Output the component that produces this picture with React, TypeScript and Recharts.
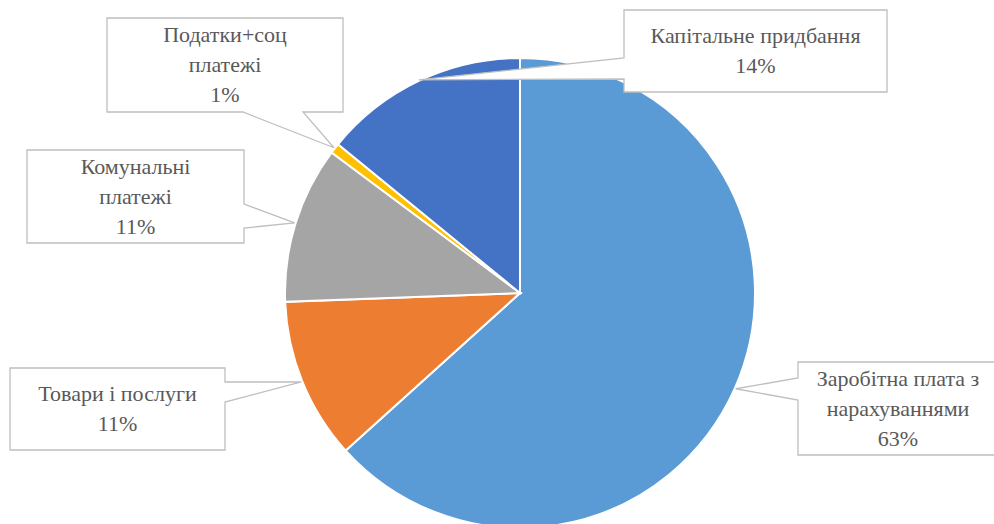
import { PieChart, Pie, Cell } from 'recharts';

// Budget structure, share of total (%)
const CATEGORIES = [
  'Заробітна плата з\nнарахуваннями',
  'Товари і послуги',
  'Комунальні\nплатежі',
  'Податки+соц\nплатежі',
  'Капітальне придбання',
];
const SHARES = [63.3, 11.1, 10.8, 0.7, 14.1];
const COLORS = ['#5B9BD5', '#ED7D31', '#A5A5A5', '#FFC000', '#4472C4'];

// Callout boxes (page coords); side = where the pointer leaves the box
const CALLOUTS = [
  { x: 798, y: 362, w: 200, h: 93, side: 'left', b1: 378, b2: 400 },
  { x: 10, y: 368, w: 215, h: 82, side: 'right', b1: 382, b2: 402 },
  { x: 27, y: 150, w: 217, h: 93, side: 'right', b1: 204, b2: 228 },
  { x: 107, y: 18, w: 236, h: 94, side: 'bottom', b1: 243, b2: 303 },
  { x: 624, y: 10, w: 263, h: 82, side: 'left', b1: 58, b2: 79 },
];

const CX = 520;
const CY = 293;
const R = 235;
const RAD = Math.PI / 180;

const data = CATEGORIES.map((name, i) => ({ name, value: SHARES[i] }));

function calloutPath(c: (typeof CALLOUTS)[number], tx: number, ty: number) {
  const { x, y, w, h, side, b1, b2 } = c;
  const r = x + w;
  const b = y + h;
  if (side === 'left') {
    return `M${x},${y}L${r},${y}L${r},${b}L${x},${b}L${x},${b2}L${tx},${ty}L${x},${b1}Z`;
  }
  if (side === 'right') {
    return `M${x},${y}L${r},${y}L${r},${b1}L${tx},${ty}L${r},${b2}L${r},${b}L${x},${b}Z`;
  }
  return `M${x},${y}L${r},${y}L${r},${b}L${b2},${b}L${tx},${ty}L${b1},${b}L${x},${b}Z`;
}

// label layer drawn on top of the pie, pointer tips at each slice's mid angle
function Callouts() {
  const total = SHARES.reduce((a, b) => a + b, 0);
  let acc = 0;
  const shapes = CATEGORIES.map((_, i) => {
    const mid = ((acc + SHARES[i] / 2) / total) * 360; // clockwise from 12 o'clock
    acc += SHARES[i];
    return {
      tx: CX + (R + 1) * Math.sin(mid * RAD),
      ty: CY - (R + 1) * Math.cos(mid * RAD),
    };
  });
  return (
    <>
      <svg width={994} height={524} style={{ position: 'absolute', left: 0, top: 0 }}>
        {CALLOUTS.map((c, i) => (
          <path
            key={i}
            d={calloutPath(c, shapes[i].tx, shapes[i].ty)}
            fill="#FFFFFF"
            stroke="#BFBFBF"
            strokeWidth={1.3}
          />
        ))}
      </svg>
      {CATEGORIES.map((name, i) => {
        const c = CALLOUTS[i];
        const lines = [...name.split('\n'), `${Math.round((SHARES[i] / total) * 100)}%`];
        return (
          <div
            key={i}
            style={{
              position: 'absolute',
              left: c.x,
              top: c.y,
              width: c.w,
              height: c.h,
              display: 'flex',
              flexDirection: 'column',
              justifyContent: 'center',
              alignItems: 'center',
              fontFamily: '"Liberation Serif", "Times New Roman", serif',
              fontSize: 22,
              lineHeight: '30px',
              color: '#595959',
              whiteSpace: 'nowrap',
            }}
          >
            {lines.map((l, j) => (
              <div key={j}>{l}</div>
            ))}
          </div>
        );
      })}
    </>
  );
}

export default function App() {
  return (
    <div style={{ position: 'absolute', left: 0, top: 0, width: 994, height: 524, background: '#fff', overflow: 'hidden' }}>
      <PieChart width={994} height={524} margin={{ top: 0, right: 0, bottom: 0, left: 0 }}>
        <Pie
          data={data}
          dataKey="value"
          nameKey="name"
          cx={CX}
          cy={CY}
          outerRadius={R}
          startAngle={90}
          endAngle={-270}
          stroke="#FFFFFF"
          strokeWidth={2}
          label={false}
          labelLine={false}
          isAnimationActive={false}
        >
          {data.map((_, i) => (
            <Cell key={i} fill={COLORS[i]} />
          ))}
        </Pie>
      </PieChart>
      <Callouts />
    </div>
  );
}
